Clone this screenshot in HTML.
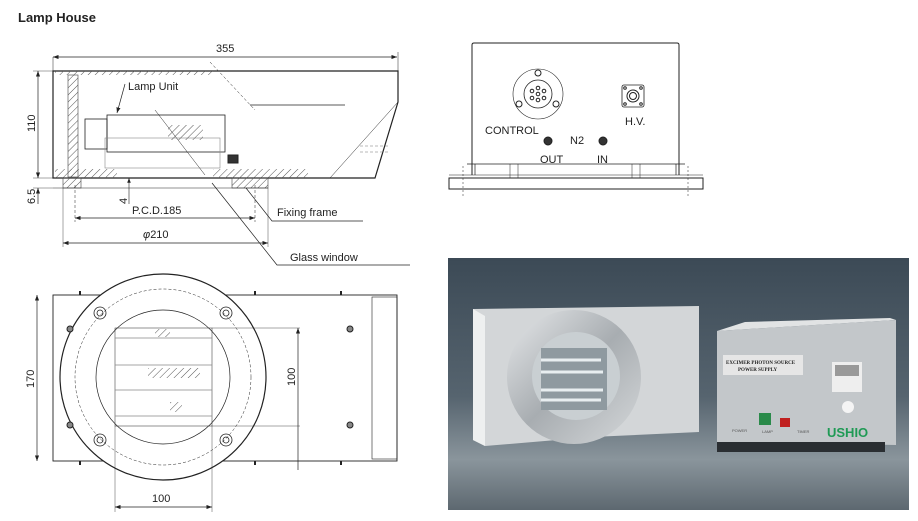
<!DOCTYPE html>
<html><head><meta charset="utf-8"><style>
html,body{margin:0;padding:0;background:#fff;}
svg{display:block;font-family:"Liberation Sans",sans-serif;}
</style></head><body>
<svg width="918" height="521" viewBox="0 0 918 521" xmlns="http://www.w3.org/2000/svg">
<defs>
<pattern id="h" width="5" height="5" patternUnits="userSpaceOnUse" patternTransform="rotate(45)"><line x1="0" y1="0" x2="0" y2="5" stroke="#555" stroke-width="1"/></pattern>
<linearGradient id="bg" x1="0" y1="0" x2="0" y2="1"><stop offset="0" stop-color="#3c4a56"/><stop offset="0.55" stop-color="#56646f"/><stop offset="0.8" stop-color="#8a959c"/><stop offset="1" stop-color="#5d6870"/></linearGradient>
<linearGradient id="ring" x1="0" y1="0" x2="1" y2="1"><stop offset="0" stop-color="#e6e8ea"/><stop offset="0.5" stop-color="#a8adb1"/><stop offset="1" stop-color="#d5d8da"/></linearGradient>
<marker id="a" markerWidth="8" markerHeight="6" refX="8" refY="3" orient="auto-start-reverse"><path d="M0,0L8,3L0,6z" fill="#222"/></marker>
</defs>
<text x="18" y="22" font-size="13" font-weight="bold" fill="#222">Lamp House</text>

<!-- side view -->
<g stroke="#222" fill="none" stroke-width="1">
<line x1="53" y1="57" x2="397" y2="57" marker-start="url(#a)" marker-end="url(#a)" stroke-width="0.7"/>
<line x1="53" y1="57" x2="53" y2="71" stroke-width="0.5"/><line x1="398" y1="52" x2="398" y2="71" stroke-width="0.5"/>
<path d="M53,71 H398 V102 L375,178 H53 Z" stroke-width="1.2"/>
<rect x="55" y="71" width="160" height="4" fill="url(#h)" stroke="none"/>
<rect x="68" y="75" width="10" height="102" fill="url(#h)" stroke="#444" stroke-width="0.6"/>
<rect x="55" y="169" width="62" height="9" fill="url(#h)" stroke="none"/>
<rect x="213" y="169" width="95" height="9" fill="url(#h)" stroke="none"/>
<rect x="63" y="178" width="18" height="10" fill="url(#h)" stroke="#444" stroke-width="0.6"/>
<rect x="232" y="178" width="36" height="10" fill="url(#h)" stroke="#444" stroke-width="0.6"/>
<line x1="53" y1="188" x2="268" y2="188" stroke-width="0.5"/>
<rect x="85" y="119" width="22" height="30" stroke-width="0.8"/>
<rect x="107" y="115" width="118" height="37" stroke-width="0.8"/>
<rect x="105" y="138" width="115" height="30" stroke="#888" stroke-width="0.6"/>
<rect x="168" y="125" width="35" height="15" fill="url(#h)" stroke="none"/>
<rect x="228" y="155" width="10" height="8" fill="#333"/>
<line x1="210" y1="62" x2="255" y2="110" stroke-dasharray="3,2" stroke-width="0.5"/>
<line x1="155" y1="110" x2="205" y2="175" stroke-width="0.5"/>
<line x1="250" y1="105" x2="345" y2="105" stroke-width="0.7"/>
<line x1="330" y1="178" x2="398" y2="102" stroke-width="0.5"/>
<path d="M360,146 h28 M360,152 h30" stroke="#777" stroke-width="0.6" stroke-dasharray="3,2"/>
<line x1="38" y1="71" x2="38" y2="178" marker-start="url(#a)" marker-end="url(#a)" stroke-width="0.7"/>
<line x1="33" y1="71" x2="53" y2="71" stroke-width="0.4"/><line x1="33" y1="178" x2="53" y2="178" stroke-width="0.4"/>
<line x1="38" y1="188" x2="38" y2="204" marker-start="url(#a)" stroke-width="0.7"/>
<line x1="33" y1="188" x2="53" y2="188" stroke-width="0.4"/>
<line x1="129" y1="178" x2="129" y2="204" marker-start="url(#a)" stroke-width="0.6"/>
<line x1="75" y1="218" x2="255" y2="218" marker-start="url(#a)" marker-end="url(#a)" stroke-width="0.7"/>
<line x1="75" y1="185" x2="75" y2="222" stroke-dasharray="3,2" stroke-width="0.5"/><line x1="255" y1="185" x2="255" y2="222" stroke-dasharray="3,2" stroke-width="0.5"/>
<line x1="63" y1="243" x2="268" y2="243" marker-start="url(#a)" marker-end="url(#a)" stroke-width="0.7"/>
<line x1="63" y1="188" x2="63" y2="247" stroke-width="0.4"/><line x1="268" y1="188" x2="268" y2="247" stroke-width="0.4"/>
<path d="M246,188 L272,221 H363" stroke-width="0.7"/>
<path d="M212,183 L277,265 H410" stroke-width="0.7"/>
<path d="M125,84 L117,113" stroke-width="0.7" marker-end="url(#a)"/>
</g>
<g font-size="11" fill="#222">
<text x="216" y="52">355</text>
<text x="128" y="90">Lamp Unit</text>
<text transform="translate(35,132) rotate(-90)">110</text>
<text transform="translate(35,204) rotate(-90)">6.5</text>
<text transform="translate(127,204) rotate(-90)">4</text>
<text x="132" y="214">P.C.D.185</text>
<text x="143" y="238"><tspan font-style="italic">φ</tspan>210</text>
<text x="277" y="216">Fixing frame</text>
<text x="290" y="261">Glass window</text>
</g>

<!-- front/back view -->
<g stroke="#222" fill="none" stroke-width="1">
<path d="M472,175 V45 Q472,43 474,43 H677 Q679,43 679,45 V175"/>
<path d="M475,164 V175 M676,164 V175" stroke-width="0.7"/>
<line x1="467" y1="164" x2="685" y2="164" stroke-width="0.7"/>
<rect x="449" y="178" width="254" height="11"/>
<line x1="449" y1="175" x2="703" y2="175" stroke-width="0.5"/>
<path d="M510,164 V178 M518,164 V178 M632,164 V178 M640,164 V178" stroke-width="0.5"/>
<path d="M463,166 V196 M688,166 V196" stroke-dasharray="2,2" stroke-width="0.5"/>
<circle cx="538" cy="94" r="25" stroke-width="0.6"/>
<circle cx="538" cy="94" r="14" stroke-width="0.8"/>
<circle cx="538" cy="73" r="3"/><circle cx="519" cy="104" r="3"/><circle cx="556" cy="104" r="3"/>
<circle cx="538" cy="88" r="1.8"/><circle cx="538" cy="100" r="1.8"/><circle cx="532" cy="91" r="1.8"/><circle cx="544" cy="91" r="1.8"/><circle cx="532" cy="98" r="1.8"/><circle cx="544" cy="98" r="1.8"/><circle cx="538" cy="94" r="1.8"/>
<rect x="622" y="85" width="22" height="22" rx="2" stroke-width="0.8"/>
<circle cx="633" cy="96" r="6"/><circle cx="633" cy="96" r="3.5"/>
<circle cx="625" cy="88" r="1.3"/><circle cx="641" cy="88" r="1.3"/><circle cx="625" cy="104" r="1.3"/><circle cx="641" cy="104" r="1.3"/>
<circle cx="548" cy="141" r="4" fill="#333"/><circle cx="603" cy="141" r="4" fill="#333"/>
</g>
<g font-size="11" fill="#222">
<text x="485" y="134">CONTROL</text><text x="570" y="144">N2</text>
<text x="540" y="163">OUT</text><text x="597" y="163">IN</text><text x="625" y="125">H.V.</text>
</g>

<!-- top view -->
<g stroke="#222" fill="none" stroke-width="1">
<rect x="53" y="295" width="344" height="166" stroke-width="0.9"/>
<rect x="372" y="297" width="25" height="162" stroke-width="0.6"/>
<circle cx="163" cy="377" r="103" fill="#fff" stroke-width="1.2"/>
<circle cx="163" cy="377" r="88" stroke-dasharray="3,2" stroke-width="0.5"/>
<circle cx="163" cy="377" r="67" stroke-width="0.7"/>
<rect x="115" y="328" width="97" height="98" stroke-width="0.5"/>
<path d="M115,338 H212 M115,365 H212 M115,390 H212 M115,416 H212" stroke="#888" stroke-width="0.8"/>
<rect x="148" y="368" width="52" height="10" fill="url(#h)" stroke="none"/>
<rect x="155" y="329" width="15" height="8" fill="url(#h)" stroke="none"/>
<rect x="170" y="402" width="12" height="10" fill="url(#h)" stroke="none"/>
<g stroke-width="0.8"><circle cx="100" cy="313" r="6"/><circle cx="100" cy="313" r="3"/><circle cx="226" cy="313" r="6"/><circle cx="226" cy="313" r="3"/><circle cx="100" cy="440" r="6"/><circle cx="100" cy="440" r="3"/><circle cx="226" cy="440" r="6"/><circle cx="226" cy="440" r="3"/></g>
<circle cx="70" cy="329" r="3" fill="#888"/><circle cx="70" cy="425" r="3" fill="#888"/>
<circle cx="350" cy="329" r="3" fill="#888"/><circle cx="350" cy="425" r="3" fill="#888"/>
<path d="M80,291 v4 M255,291 v4 M341,291 v4 M80,461 v4 M255,461 v4 M341,461 v4" stroke-width="2"/>
<line x1="37" y1="295" x2="37" y2="461" marker-start="url(#a)" marker-end="url(#a)" stroke-width="0.7"/>
<path d="M212,328 H300 M212,426 H300" stroke-width="0.4"/>
<line x1="298" y1="328" x2="298" y2="470" marker-start="url(#a)" stroke-width="0.7"/>
<path d="M115,426 V512 M212,426 V512" stroke-width="0.4"/>
<line x1="115" y1="507" x2="212" y2="507" marker-start="url(#a)" marker-end="url(#a)" stroke-width="0.7"/>
</g>
<g font-size="11" fill="#222">
<text transform="translate(34,388) rotate(-90)">170</text>
<text transform="translate(295,386) rotate(-90)">100</text>
<text x="152" y="502">100</text>
</g>

<!-- photo -->
<rect x="448" y="258" width="461" height="252" fill="url(#bg)"/>
<polygon points="473,309 699,306 699,432 592,437 485,446 473,440" fill="#d3d6d8"/>
<polygon points="473,309 485,316 485,446 473,440" fill="#eef0f0"/>
<circle cx="574" cy="377" r="67" fill="url(#ring)"/>
<circle cx="576" cy="376" r="44" fill="#c9cfd2"/>
<rect x="541" y="348" width="66" height="62" fill="#8f9aa0"/>
<path d="M541,360 h60 M541,372 h62 M541,390 h62 M541,400 h60" stroke="#e8eef0" stroke-width="3"/>
<polygon points="717,331 896,320 896,445 717,442" fill="#c3c7ca"/>
<polygon points="717,331 745,322 890,318 896,320" fill="#e1e3e4"/>
<rect x="717" y="442" width="168" height="10" fill="#2a2e32"/>
<rect x="723" y="355" width="80" height="20" fill="#e6e6e6"/>
<text x="726" y="364" font-size="5" font-family="Liberation Serif" font-weight="bold" fill="#222">EXCIMER PHOTON SOURCE</text>
<text x="738" y="371" font-size="5" font-family="Liberation Serif" font-weight="bold" fill="#222">POWER SUPPLY</text>
<rect x="832" y="362" width="30" height="30" fill="#eee"/><rect x="835" y="365" width="24" height="11" fill="#999"/>
<circle cx="848" cy="407" r="6" fill="#f4f4f4"/>
<rect x="759" y="413" width="12" height="12" fill="#2a8a4a"/>
<rect x="780" y="418" width="10" height="9" fill="#c02020"/>
<text x="827" y="437" font-size="13" font-weight="bold" fill="#1f9a55">USHIO</text>
<text x="732" y="432" font-size="4" fill="#555">POWER</text><text x="762" y="433" font-size="4" fill="#555">LAMP</text><text x="797" y="433" font-size="4" fill="#555">TIMER</text>
</svg>
</body></html>
